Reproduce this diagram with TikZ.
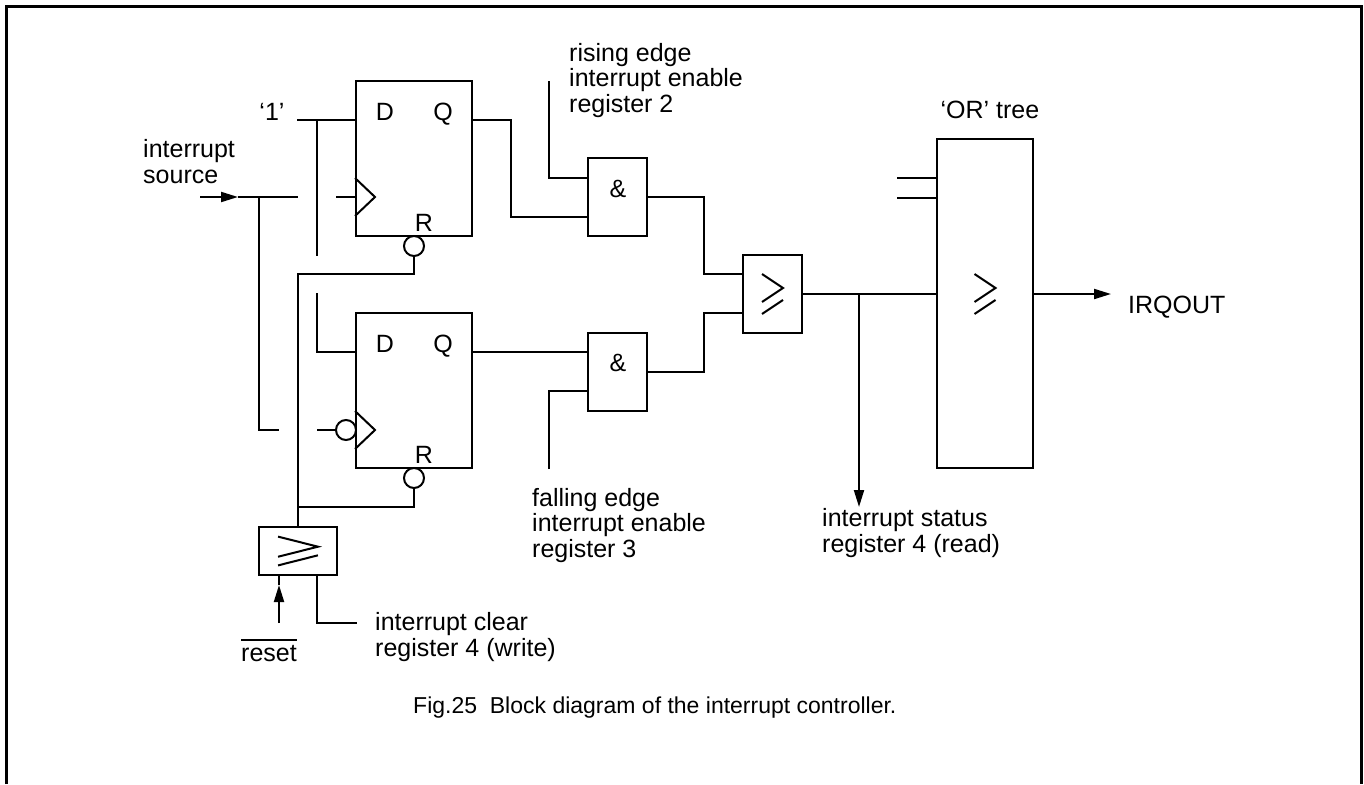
\documentclass[tikz,border=0pt]{standalone}
\usepackage{fontspec}
\setmainfont{Liberation Sans}
\usetikzlibrary{arrows.meta}
\tikzset{
    wire/.style={line width=2pt},
    blk/.style={draw, line width=2pt, rectangle, inner sep=0pt},
    bub/.style={draw, line width=2pt, circle, inner sep=0pt, minimum size=20pt},
    lbl/.style={inner sep=0pt, font=\fontsize{25}{25.5}\selectfont},
    arrowend/.style={-{Triangle[length=17pt,width=10pt]}},
    geqsym/.pic={
        \draw[wire] (-10.5,-20) -- (10.5,-6) -- (-10.5,8) (-10.5,20) -- (10.5,6);
    },
}

\begin{document}
\begin{tikzpicture}[x=1pt,y=-1pt]
\useasboundingbox (0,0) rectangle (1364,784);
\draw[line width=3pt] (6.5,784) -- (6.5,6.5) -- (1361.5,6.5) -- (1361.5,784);

% flip-flops
\node[blk, minimum width=116pt, minimum height=155pt] (ff1) at (414,158.5) {};
\node[blk, minimum width=116pt, minimum height=155pt] (ff2) at (414,390.5) {};
\node[lbl, anchor=base] (d1) at (385,120) {D};
\node[lbl, anchor=base] (q1) at (443,120) {Q};
\node[lbl, anchor=base] (r1) at (424,231) {R};
\node[lbl, anchor=base] (d2) at (385,352) {D};
\node[lbl, anchor=base] (q2) at (443,352) {Q};
\node[lbl, anchor=base] (r2) at (424,463) {R};
\node[bub] (nr1) at (414,246) {};
\node[bub] (nr2) at (414,478) {};
\node[bub] (nclk2) at (346,430) {};
\coordinate (clk1) at (ff1.west |- 0,197);
\coordinate (clk2) at (ff2.west |- nclk2);
\draw[wire] (clk1) ++(0,-19) -- ++(20,19) -- ++(-20,19);
\draw[wire] (clk2) ++(0,-19) -- ++(20,19) -- ++(-20,19);

% gates
\node[blk, minimum width=59pt, minimum height=78pt] (and1) at (617.5,197) {};
\node[blk, minimum width=59pt, minimum height=78pt] (and2) at (617.5,371.5) {};
\node[lbl, anchor=base] (amp1) at (618,197) {\&};
\node[lbl, anchor=base] (amp2) at (618,371) {\&};
\node[blk, minimum width=59pt, minimum height=78pt] (or1) at (772.5,294) {};
\pic at (or1) {geqsym};
\node[blk, minimum width=96pt, minimum height=329pt] (ortree) at (985,303.5) {};
\pic at (ortree.center |- or1) {geqsym};
\node[blk, minimum width=78pt, minimum height=48pt] (clr) at (298,551) {};
\pic[xscale=1.9, yscale=0.72] at (clr) {geqsym};

% inputs and reset wiring
\coordinate (one) at (297,120);
\coordinate (src) at (200,197);
\coordinate (srctip) at (238,197);
\coordinate (srcend) at (298,197);
\coordinate (jsrc) at (259,197);
\coordinate (rst) at (279,623);
\coordinate (rsttip) at (279,585);
\coordinate (clrend) at (357,623);
\draw[wire] (one) -- (ff1.west |- one);
\draw[wire] (317,120) -- (317,256);
\draw[wire, arrowend] (src) -- (srctip);
\draw[wire] (srctip) -- (srcend);
\draw[wire] (jsrc) |- (279,430);
\draw[wire] (336,197) -- (clk1);
\draw[wire] (nr1.south) -- (nr1.south |- 0,274) -| (clr.north);
\draw[wire] (317,293) |- (ff2.west |- d2.base);
\draw[wire] (317,430) -- (nclk2.west);
\draw[wire] (nr2.south) |- (clr.north |- 0,507);
\draw[wire, arrowend] (rst) -- (rsttip);
\draw[wire] (rsttip) -- (clr.south -| rst);
\draw[wire] ([xshift=19pt]clr.south) |- (clrend);

% gate wiring
\draw[wire] (ff1.east |- q1.base) -| (511,217) -- (and1.west |- 0,217);
\draw[wire] (549,81) |- (and1.west |- 0,178);
\draw[wire] (ff2.east |- q2.base) -- (and2.west |- q2.base);
\draw[wire] (549,469) |- (and2.west |- 0,391);
\draw[wire] (and1.east) -| (704,274) -- (or1.west |- 0,274);
\draw[wire] (and2.east) -| (704,313) -- (or1.west |- 0,313);
\draw[wire] (or1.east) -- (ortree.west |- or1.east);
\draw[wire, arrowend] (859,294) -- (859,507);
\draw[wire] (897,178) -- (ortree.west |- 0,178);
\draw[wire] (897,198) -- (ortree.west |- 0,198);
\draw[wire, arrowend] (ortree.east |- or1.east) -- (1111,294);

% labels (base = last line)
\node[lbl, anchor=base] (onelbl) at (272,120) {`1'};
\node[lbl, anchor=base west, align=left] (srclbl) at (143,183) {interrupt\\source};
\node[lbl, anchor=base west, align=left] (riselbl) at (569,112) {rising edge\\interrupt enable\\register 2};
\node[lbl, anchor=base west, align=left] (falllbl) at (532,557) {falling edge\\interrupt enable\\register 3};
\node[lbl, anchor=base west, align=left] (statlbl) at (822,552) {interrupt status\\register 4 (read)};
\node[lbl, anchor=base west, align=left] (clrlbl) at (375,656) {interrupt clear\\register 4 (write)};
\node[lbl, anchor=base] (rstlbl) at (269,661) {reset};
\draw[line width=2pt] ([yshift=4.5pt]rstlbl.north west) -- ([yshift=4.5pt]rstlbl.north east);
\node[lbl, anchor=base] (orlbl) at (990,118) {`OR' tree};
\node[lbl, anchor=base west] (irqlbl) at (1128,313) {IRQOUT};
\node[inner sep=0pt, anchor=base west, font=\fontsize{23}{25}\selectfont] (caption) at (413,713) {Fig.25\ \ Block diagram of the interrupt controller.};
\end{tikzpicture}
\end{document}
